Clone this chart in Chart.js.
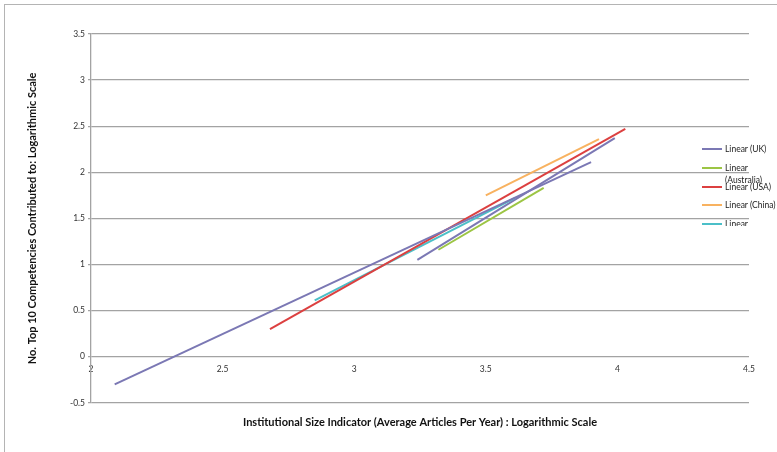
<!DOCTYPE html>
<html>
<head>
<meta charset="utf-8">
<script src="https://cdn.jsdelivr.net/npm/chart.js@4.4.1/dist/chart.umd.min.js"></script>
<style>
  html, body { margin: 0; padding: 0; background: #ffffff; }
  #wrap { position: relative; width: 777px; height: 452px; overflow: hidden; }
  #frame { position: absolute; left: 4px; top: 4px; width: 900px; height: 600px;
           border-left: 1.5px solid #b4b4b4; border-top: 1.5px solid #b4b4b4; pointer-events: none; }
  #legend { position: absolute; left: 698px; top: 138px; width: 79px; height: 88px; overflow: hidden;
            font-family: Lato, "Open Sans", sans-serif; font-size: 8.5px; color: #222; }
  .item { position: absolute; left: 0; width: 79px; }
  .swatch { position: absolute; left: 4px; width: 20px; height: 0; border-top: 2px solid; }
  .txt { position: absolute; left: 27px; width: 54px; line-height: 12px; }
</style>
</head>
<body>
<div id="wrap">
  <canvas id="c" width="777" height="452"></canvas>
  <div id="frame"></div>
  <div id="legend"></div>
</div>
<script>
// Trend line series (start / end points)
const seriesLabels = ["Linear (UK)", "Linear (Australia)", "Linear (USA)", "Linear (China)", "Linear (Netherlands)", "Linear (Overall)"];
const ukX = [2.09, 3.90];         const ukY = [-0.30, 2.11];
const australiaX = [3.32, 3.72];  const australiaY = [1.16, 1.83];
const usaX = [2.68, 4.03];        const usaY = [0.30, 2.47];
const chinaX = [3.50, 3.93];      const chinaY = [1.75, 2.36];
const cyanX = [2.85, 3.61];       const cyanY = [0.61, 1.72];
const allX = [3.24, 3.99];        const allY = [1.05, 2.37];
const seriesColors = ["#7b78b4", "#9cc544", "#dc4040", "#f8b260", "#4bbfc8", "#7b78b4"];
const xTicks = [2, 2.5, 3, 3.5, 4, 4.5];
const yTicks = [-0.5, 0, 0.5, 1, 1.5, 2, 2.5, 3, 3.5];

const xs = [ukX, australiaX, usaX, chinaX, cyanX, allX];
const ys = [ukY, australiaY, usaY, chinaY, cyanY, allY];

const FONT = "Lato, 'Open Sans', sans-serif";
const datasets = seriesLabels.map((lab, i) => ({
  label: lab,
  data: xs[i].map((x, j) => ({ x: x, y: ys[i][j] })),
  borderColor: seriesColors[i],
  backgroundColor: seriesColors[i],
  borderWidth: 2,
  pointRadius: 0,
  showLine: true,
  tension: 0,
  fill: false
}));

const chart = new Chart(document.getElementById('c'), {
  type: 'scatter',
  data: { datasets: datasets },
  options: {
    responsive: false,
    animation: false,
    devicePixelRatio: 1,
    layout: { padding: { left: 22, right: 28, top: 34, bottom: 0 } },
    plugins: {
      legend: { display: false },
      tooltip: { enabled: false },
      title: {
        display: true,
        position: 'bottom',
        fullSize: false,
        text: 'Institutional Size Indicator (Average Articles Per Year) : Logarithmic Scale',
        color: '#111',
        font: { family: FONT, size: 11, weight: 'bold' },
        padding: { top: 13, bottom: 23 }
      }
    },
    scales: {
      x: {
        type: 'linear',
        position: { y: 0 },
        min: xTicks[0],
        max: xTicks[xTicks.length - 1],
        afterBuildTicks: s => { s.ticks = xTicks.map(v => ({ value: v })); },
        grid: { display: false, drawTicks: false },
        border: { display: false },
        ticks: { color: '#333', font: { family: FONT, size: 8.5 }, padding: 7, maxRotation: 0,
                 callback: v => String(v) }
      },
      y: {
        type: 'linear',
        position: 'left',
        min: yTicks[0],
        max: yTicks[yTicks.length - 1],
        afterBuildTicks: s => { s.ticks = yTicks.map(v => ({ value: v })); },
        afterFit: s => { s.width = 69; },
        grid: { color: '#a3a3a3', lineWidth: 1.3, tickLength: 3 },
        border: { display: true, color: '#a3a3a3', width: 1.3 },
        ticks: { color: '#333', font: { family: FONT, size: 8.5 }, padding: 3,
                 callback: v => String(v) },
        title: {
          display: true,
          text: 'No. Top 10 Competencies Contributed to: Logarithmic Scale',
          color: '#111',
          font: { family: FONT, size: 11, weight: 'bold' },
          padding: { top: 4, bottom: 4 }
        }
      }
    }
  }
});

// HTML legend (clipped like the original)
const legend = document.getElementById('legend');
chart.data.datasets.forEach((ds, i) => {
  const cy = 11 + i * 18.8; // centre of entry inside legend box
  const item = document.createElement('div');
  item.className = 'item';
  item.style.top = (cy - 6) + 'px';
  const sw = document.createElement('div');
  sw.className = 'swatch';
  sw.style.top = '5px';
  sw.style.borderTopColor = ds.borderColor;
  const tx = document.createElement('div');
  tx.className = 'txt';
  tx.textContent = ds.label;
  item.appendChild(sw);
  item.appendChild(tx);
  legend.appendChild(item);
});
</script>
</body>
</html>
